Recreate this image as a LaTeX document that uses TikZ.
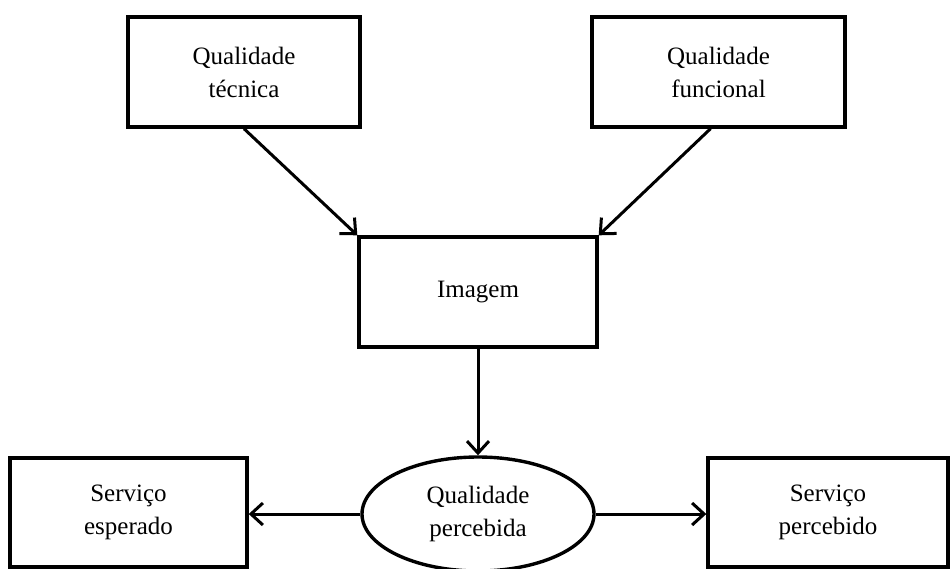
\documentclass[tikz,border=0pt]{standalone}
\usepackage{fontspec}
\setmainfont{Liberation Serif}
\usetikzlibrary{arrows.meta,shapes.geometric}
\begin{document}
\begin{tikzpicture}[x=1pt,y=-1pt,
  box/.style={draw,line width=3.4pt,rectangle,inner sep=0pt,align=center,
    font=\fontsize{25}{33}\selectfont},
  oval/.style={draw,line width=3.4pt,ellipse,inner sep=0pt,align=center,
    font=\fontsize{25}{33}\selectfont},
  link/.style={line width=3pt,-{Straight Barb[length=12pt,width=22pt,line width=3pt]}}]
  \useasboundingbox (0,0) rectangle (950,568);
  % quality dimensions
  \node[box,minimum width=232pt,minimum height=110pt] (tec) at (244,72) {Qualidade\\técnica};
  \node[box,minimum width=253pt,minimum height=110pt] (fun) at (718.5,72) {Qualidade\\funcional};
  % image
  \node[box,minimum width=238pt,minimum height=110pt] (img) at (478,292) {Imagem};
  % perceived quality and services
  \node[oval,minimum width=232pt,minimum height=114pt] (perc) at (478,514) {Qualidade\\percebida};
  \node[box,minimum width=237pt,minimum height=109pt] (esp) at (128.5,512.5) {Serviço\\esperado};
  \node[box,minimum width=240pt,minimum height=109pt] (sp) at (828,512.5) {Serviço\\percebido};
  % connectors
  \draw[link] (tec.south) -- (img.north west);
  \draw[link] ([xshift=-8pt]fun.south) -- (img.north east);
  \draw[link] (img.south) -- (perc.north);
  \draw[link] (perc.west) -- (perc.west -| esp.east);
  \draw[link] (perc.east) -- (perc.east -| sp.west);
\end{tikzpicture}
\end{document}
